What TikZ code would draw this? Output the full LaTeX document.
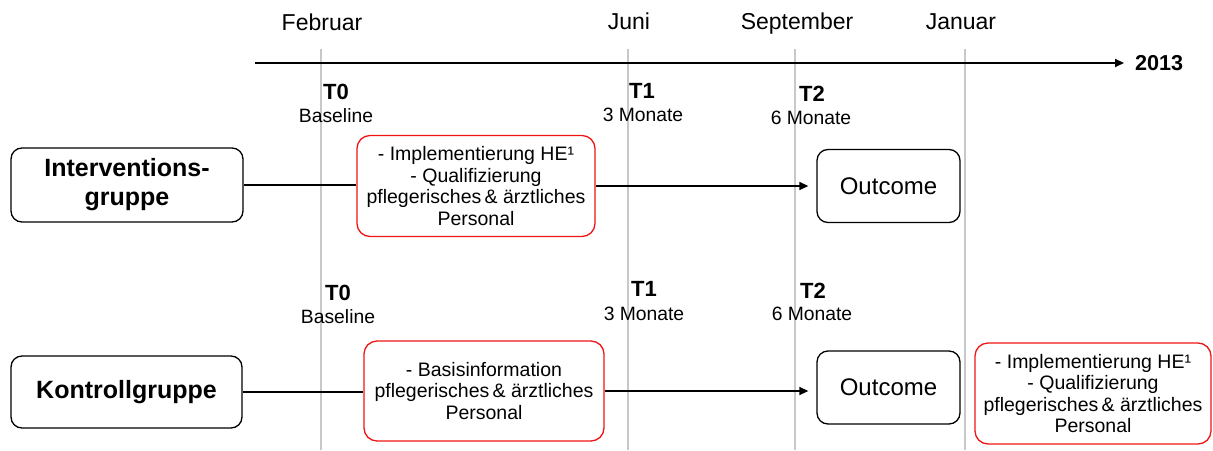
\documentclass[tikz,border=0pt]{standalone}
\usepackage{fontspec}
\setmainfont{Liberation Sans}
\usetikzlibrary{arrows.meta}
\definecolor{gridgray}{RGB}{200,200,200}
\definecolor{boxred}{RGB}{240,20,20}

\begin{document}
\begin{tikzpicture}[x=1pt,y=-1pt,
  grp/.style={draw=black, line width=1.3pt, rounded corners=11pt, align=center,
    font=\fontsize{25}{29}\selectfont\bfseries, inner sep=0pt},
  act/.style={draw=boxred, line width=1.3pt, rounded corners=13pt, align=center,
    font=\fontsize{19.5}{21.5}\selectfont, inner sep=0pt},
  res/.style={draw=black, line width=1.3pt, rounded corners=11pt, inner sep=0pt,
    font=\fontsize{24}{28}\selectfont, minimum width=143pt, minimum height=73pt},
  month/.style={anchor=base, font=\fontsize{23}{26}\selectfont, inner sep=0pt},
  tp/.style={anchor=base west, font=\fontsize{22}{24}\selectfont\bfseries, inner sep=0pt},
  sub/.style={anchor=base, font=\fontsize{19.3}{22}\selectfont, inner sep=0pt},
  vline/.style={draw=gridgray, line width=1.5pt},
  conn/.style={draw=black, line width=1.4pt},
  tip/.style={-{Triangle[length=9pt,width=8pt]}}
]
\useasboundingbox (0,0) rectangle (1213,450);

% month grid lines
\foreach \x in {321,628,795,965}
  \draw[vline] (\x,49) -- (\x,450);

% month names
\node[month] (feb) at (322,30) {Februar};
\node[month] (jun) at (629,29) {Juni};
\node[month] (sep) at (797,29) {September};
\node[month] (jan) at (961,29) {Januar};

% time axis
\coordinate (axis) at (255,63);
\node[anchor=west, inner sep=0pt, font=\fontsize{21.6}{24}\selectfont\bfseries] (year) at (1135,63) {2013};
\draw[conn, line width=1.8pt, tip, shorten >=11pt] (axis) -- (year.west);

% measurement points, intervention arm
\node[tp] (t0a) at (323,99) {T0};
\node[sub] (b0a) at (336,122) {Baseline};
\node[tp] (t1a) at (629,98) {T1};
\node[sub] (b1a) at (643,121) {3 Monate};
\node[tp] (t2a) at (799,101) {T2};
\node[sub] (b2a) at (811,124) {6 Monate};

% measurement points, control arm
\node[tp] (t0b) at (325,300) {T0};
\node[sub] (b0b) at (338,323) {Baseline};
\node[tp] (t1b) at (631,296) {T1};
\node[sub] (b1b) at (644,320) {3 Monate};
\node[tp] (t2b) at (800,298) {T2};
\node[sub] (b2b) at (812,320) {6 Monate};

% intervention arm
\node[grp, minimum width=232pt, minimum height=74pt] (ig) at (127,185) {Interventions-\\gruppe};
\node[act, minimum width=238pt, minimum height=101pt] (ia) at (476,186)
  {- Implementierung HE¹\\- Qualifizierung\\pflegerisches\,\& ärztliches\\Personal};
\node[res] (io) at (888.5,186) {Outcome};
\draw[conn] (ig.east) -- (ig.east -| ia.west);
\draw[conn, tip, shorten >=8pt] (ia.east) -- (io.west);

% control arm
\node[grp, minimum width=231pt, minimum height=72pt] (kg) at (126.5,392) {Kontrollgruppe};
\node[act, minimum width=240pt, minimum height=100pt] (ka) at (484,391)
  {- Basisinformation\\pflegerisches\,\& ärztliches\\Personal};
\node[res] (ko) at (888.5,387.5) {Outcome};
\node[act, minimum width=236pt, minimum height=101pt] (kl) at (1093,393.5)
  {- Implementierung HE¹\\- Qualifizierung\\pflegerisches\,\& ärztliches\\Personal};
\draw[conn] (kg.east) -- (kg.east -| ka.west);
\draw[conn, tip, shorten >=8pt] (ka.east) -- (ka.east -| ko.west);
\end{tikzpicture}
\end{document}
